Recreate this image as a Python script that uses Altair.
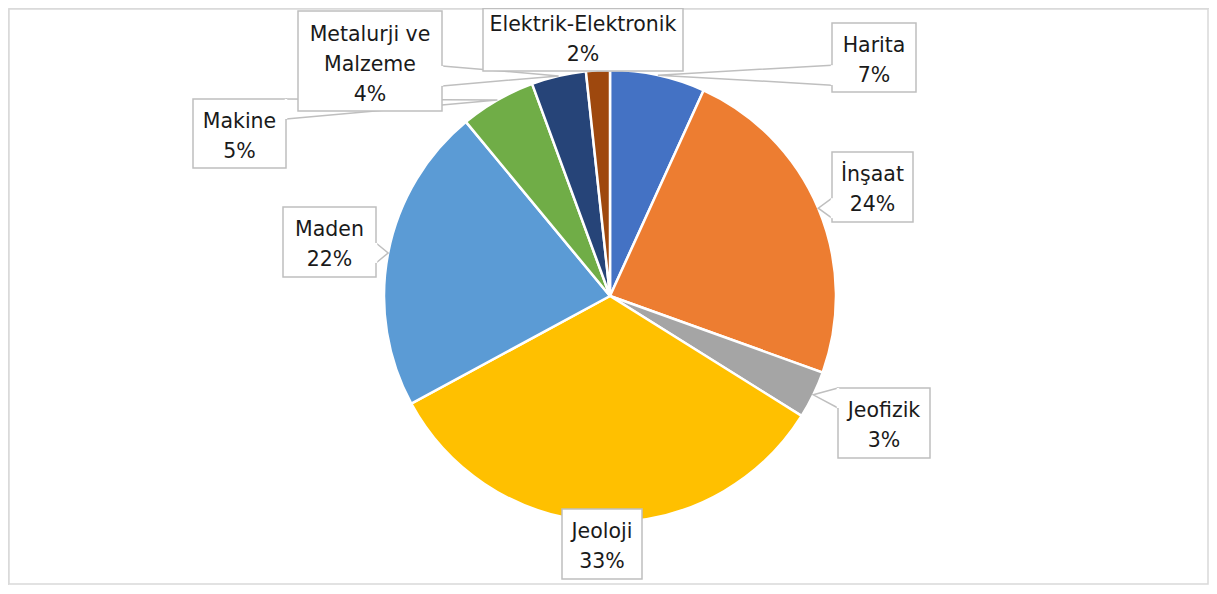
import math
import altair as alt
import pandas as pd

# ---- data ----
categories = ["Harita", "İnşaat", "Jeofizik", "Jeoloji", "Maden", "Makine",
              "Metalurji ve Malzeme", "Elektrik-Elektronik"]
label_names = ["Harita", "İnşaat", "Jeofizik", "Jeoloji", "Maden", "Makine",
               "Metalurji  ve\nMalzeme", "Elektrik-Elektronik"]
values = [6.8, 23.7, 3.4, 33.2, 21.9, 5.4, 3.9, 1.7]
colors = ["#4472C4", "#ED7D31", "#A5A5A5", "#FFC000", "#5B9BD5", "#70AD47",
          "#264478", "#9E480E"]

# ---- layout (pixels inside the view) ----
W, H = 1201, 577
CX, CY, R = 602, 288, 226
LINE_H = 30
# label box centre x, centre y, width, height
box_layout = [
    (866, 49.5, 84, 69),
    (864.5, 179, 81, 70),
    (876, 415, 92, 70),
    (594, 536, 80, 70),
    (321.5, 234, 93, 70),
    (231.5, 125.5, 93, 69),
    (362, 53, 144, 100),
    (575, 31.75, 200, 62.5),
]
text_y_shift = [3, 3, 3, 3, 3, 3, 4, 0]
WEDGE_BASE = 20
GRAY = "#BFBFBF"

total = sum(values)
pie_df = pd.DataFrame({"cat": categories, "value": values, "idx": list(range(len(values)))})

rows_box, rows_wedge, rows_base = [], [], []
cum = 0.0
for i, (name, v) in enumerate(zip(label_names, values)):
    mid = (cum + v / 2) / total * 2 * math.pi
    cum += v
    tx = CX + R * math.sin(mid)
    ty = CY - R * math.cos(mid)
    bx, by, bw, bh = box_layout[i]
    x1, x2, y1, y2 = bx - bw / 2, bx + bw / 2, by - bh / 2, by + bh / 2
    pct = round(v / total * 100)
    text = f"{name}\n{pct}%"
    n = text.count("\n") + 1
    rows_box.append({"cat": categories[i], "x1": x1, "x2": x2, "y1": y1, "y2": y2,
                     "cx": bx, "ty": by - (n - 1) * LINE_H / 2 + text_y_shift[i],
                     "text": text})
    h = WEDGE_BASE / 2
    pts = None
    if tx < x1 or tx > x2:
        sx = x1 if tx < x1 else x2
        c = min(max(ty, y1 + h), y2 - h)
        pts = [(sx, c - h), (tx, ty), (sx, c + h)]
    elif ty > y2 or ty < y1:
        sy = y2 if ty > y2 else y1
        c = min(max(tx, x1 + h), x2 - h)
        pts = [(c - h, sy), (tx, ty), (c + h, sy)]
    if pts:
        for k, (px, py) in enumerate(pts):
            rows_wedge.append({"cat": categories[i], "k": k, "px": px, "py": py})
        rows_base.append({"cat": categories[i], "bx1": pts[0][0], "by1": pts[0][1],
                          "bx2": pts[2][0], "by2": pts[2][1]})

box_df = pd.DataFrame(rows_box)
wedge_df = pd.DataFrame(rows_wedge)
base_df = pd.DataFrame(rows_base)

frame = alt.Chart(pd.DataFrame({"a": [0]})).mark_rect(
    fill="white", stroke="#D9D9D9", strokeWidth=1.5
).encode(
    x=alt.value(1), x2=alt.value(W - 1), y=alt.value(1), y2=alt.value(H - 1)
)

pie = alt.Chart(pie_df).mark_arc(outerRadius=R, stroke="white", strokeWidth=2.5).encode(
    theta=alt.Theta("value:Q", stack=True),
    order=alt.Order("idx:Q"),
    color=alt.Color("cat:N", scale=alt.Scale(domain=categories, range=colors), legend=None),
    x=alt.value(CX),
    y=alt.value(CY),
)

wedges = alt.Chart(wedge_df).mark_line(color=GRAY, strokeWidth=1.5).encode(
    x=alt.X("px:Q", scale=None),
    y=alt.Y("py:Q", scale=None),
    detail="cat:N",
    order="k:Q",
)

boxes = alt.Chart(box_df).mark_rect(fill="white", stroke=GRAY, strokeWidth=1.5).encode(
    x=alt.X("x1:Q", scale=None),
    x2="x2:Q",
    y=alt.Y("y1:Q", scale=None),
    y2="y2:Q",
)

bases = alt.Chart(base_df).mark_rule(color="white", strokeWidth=2.5).encode(
    x=alt.X("bx1:Q", scale=None),
    x2="bx2:Q",
    y=alt.Y("by1:Q", scale=None),
    y2="by2:Q",
)

texts = alt.Chart(box_df).mark_text(
    font="DejaVu Sans", fontSize=20.5, lineHeight=LINE_H, lineBreak="\n",
    color="#1a1a1a", align="center", baseline="middle",
).encode(
    x=alt.X("cx:Q", scale=None),
    y=alt.Y("ty:Q", scale=None),
    text="text:N",
)

chart = alt.layer(frame, pie, wedges, boxes, bases, texts).properties(
    width=W, height=H, padding=0, autosize=alt.AutoSizeParams(type="none"),
).configure_view(stroke=None).configure(background="white")

chart.save("out.html", embed_options={"renderer": "svg", "actions": False})
